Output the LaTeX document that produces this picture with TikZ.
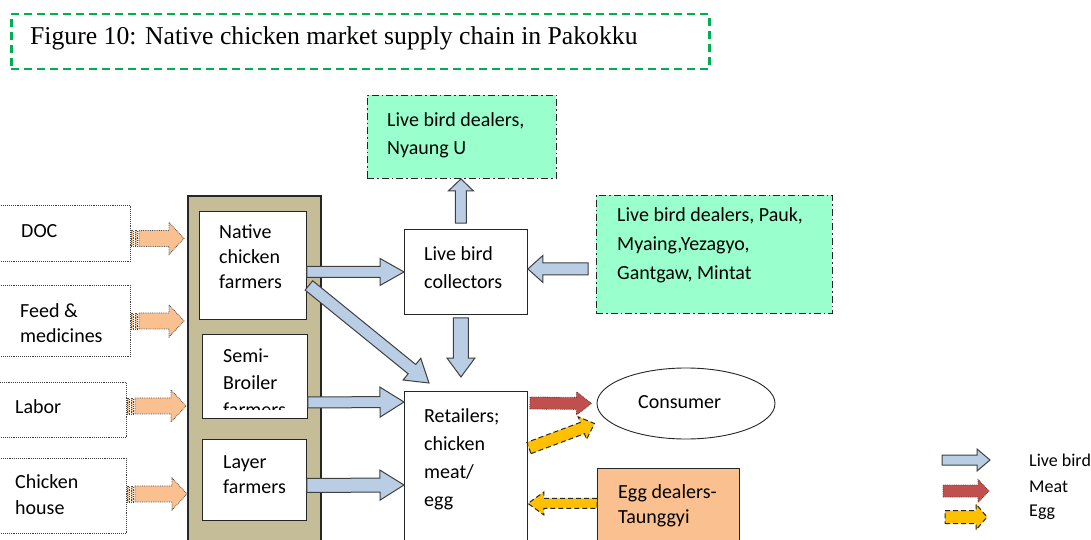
\documentclass[tikz,border=0pt]{standalone}
\usepackage{fontspec}
\setmainfont{Carlito}
\newfontfamily\titlefont{Liberation Serif}
\usetikzlibrary{calc,shapes.geometric}

\definecolor{tanbg}{HTML}{C4BD97}
\definecolor{mint}{HTML}{99FFCC}
\definecolor{peach}{HTML}{FAC090}
\definecolor{lblue}{HTML}{B9CDE5}
\definecolor{meatred}{HTML}{C0504D}
\definecolor{eggyel}{HTML}{FFC000}
\definecolor{tgreen}{HTML}{00B050}

% block arrow: [style]{from}{to}{shaft half width}{head half width}{head length}
\newcommand\blockarrow[6][]{%
  \path (#2); \pgfgetlastxy{\baSx}{\baSy}%
  \path (#3); \pgfgetlastxy{\baEx}{\baEy}%
  \pgfmathsetmacro\baAng{atan2(\baEy-\baSy,\baEx-\baSx)}%
  \pgfmathsetmacro\baLen{veclen(\baEx-\baSx,\baEy-\baSy)}%
  \pgfmathsetmacro\baNeck{\baLen-#6}%
  \draw[#1,shift={(\baSx,\baSy)},rotate=\baAng]
    (0pt,-#4pt) -- (\baNeck pt,-#4pt) -- (\baNeck pt,-#5pt) -- (\baLen pt,0pt)
    -- (\baNeck pt,#5pt) -- (\baNeck pt,#4pt) -- (0pt,#4pt) -- cycle;
}
% striped input arrow (horizontal)
\newcommand\stripedarrow[2]{%
  \blockarrow[inarrow]{$(#1)+(8,0)$}{#2}{8}{16}{15}%
  \draw[inarrow] ($(#1)+(0,-8)$) rectangle ($(#1)+(2,8)$);
  \draw[inarrow] ($(#1)+(4,-8)$) rectangle ($(#1)+(6,8)$);
}

\begin{document}
\begin{tikzpicture}[x=1pt,y=-1pt,
  box/.style={draw=black!85, line width=0.9pt, rectangle, inner sep=0pt, anchor=north west, fill=white},
  inbox/.style={draw=black!75, densely dotted, line width=0.9pt, rectangle, inner sep=0pt, anchor=north west, fill=white},
  dealerbox/.style={box, fill=mint, dash pattern=on 7pt off 3pt on 1.5pt off 3pt},
  % text nodes are placed by the baseline of their last line
  txt/.style={anchor=base west, inner sep=0pt, align=left, font=\fontsize{20}{25}\selectfont},
  wide/.style={font=\fontsize{20}{28}\selectfont},
  legtxt/.style={anchor=base west, inner sep=0pt, font=\fontsize{18}{20}\selectfont},
  inarrow/.style={fill=peach, draw=black!70, densely dotted, line width=0.8pt},
  livearrow/.style={fill=lblue, draw=black!75, line width=1pt},
  meatarrow/.style={fill=meatred, draw=meatred!60!black, densely dotted, line width=0.8pt},
  eggarrow/.style={fill=eggyel, draw=black!85, dash pattern=on 5pt off 3pt, line width=1pt}
]
\useasboundingbox (0,0) rectangle (1091,540);
\clip (0,0) rectangle (1091,540);
\fill[white] (0,0) rectangle (1091,540);

% title
\node[draw=tgreen, line width=2.5pt, dash pattern=on 8pt off 5pt, minimum width=698pt, minimum height=55pt, anchor=north west, inner sep=0pt] (titlebox) at (10,13) {};
\node[anchor=base west, inner sep=0pt, font=\titlefont\fontsize{25.7}{28}\selectfont] (title) at (30,45) {Figure 10: Native chicken market supply chain in Pakokku};

% inputs
\node[inbox, minimum width=135pt, minimum height=56pt] (doc) at (-5,205) {};
\node[inbox, minimum width=135pt, minimum height=71pt] (feed) at (-5,285) {};
\node[inbox, minimum width=131pt, minimum height=55pt] (labor) at (-5,382) {};
\node[inbox, minimum width=131pt, minimum height=75pt] (house) at (-5,458) {};
\node[txt] (doc-t) at (21,237) {DOC};
\node[txt] (feed-t) at (20,342) {Feed \&\\medicines};
\node[txt] (labor-t) at (15,413) {Labor};
\node[txt, font=\fontsize{20}{26}\selectfont] (house-t) at (15,514) {Chicken\\house};

% farmers
\node[box, fill=tanbg, line width=1.5pt, minimum width=133pt, minimum height=370pt] (tan) at (187,195) {};
\node[box, minimum width=107pt, minimum height=108pt] (ncf) at (199,211) {};
\node[box, minimum width=105pt, minimum height=84pt] (semi) at (202,334) {};
\node[box, minimum width=104pt, minimum height=81pt] (layer) at (202,439) {};
\node[txt] (ncf-t) at (219,288) {Native\\chicken\\farmers};
\begin{scope}
  \clip (semi.north west) rectangle ($(semi.south east)+(0,-9)$);
  \node[txt, font=\fontsize{20}{27}\selectfont] (semi-t) at (223,416) {Semi-\\Broiler\\farmers};
\end{scope}
\node[txt] (layer-t) at (223,493) {Layer\\farmers};

% traders
\node[dealerbox, minimum width=189pt, minimum height=83pt] (nyu) at (367,95) {};
\node[txt, wide] (nyu-t) at (387,155) {Live bird dealers,\\Nyaung U};
\node[box, minimum width=123pt, minimum height=85pt] (colls) at (404,229) {};
\node[txt, wide] (colls-t) at (424,288) {Live bird\\collectors};
\node[dealerbox, minimum width=236pt, minimum height=118pt] (pauk) at (596,195) {};
\node[txt, font=\fontsize{20}{29}\selectfont] (pauk-t) at (617,279) {Live bird dealers, Pauk,\\Myaing,Yezagyo,\\Gantgaw, Mintat};
\node[box, minimum width=123pt, minimum height=170pt] (retail) at (404,391) {};
\node[txt, wide] (retail-t) at (424,506) {Retailers;\\chicken\\meat/\\egg};
\node[draw=black!85, line width=0.9pt, ellipse, minimum width=178pt, minimum height=71pt, inner sep=0pt] (consumer) at (686,403.5) {};
\node[txt] (consumer-t) at (638,408) {Consumer};
\node[box, fill=peach, minimum width=142pt, minimum height=90pt] (eggd) at (597,468) {};
\node[txt] (eggd-t) at (618,523) {Egg dealers-\\Taunggyi};

% inputs into farms
\stripedarrow{$(doc.east)+(0,5)$}{$(tan.west|-doc.east)+(-3,5)$}
\stripedarrow{feed.east}{$(tan.west|-feed.east)+(-3,0)$}
\stripedarrow{$(labor.east)+(0,-4)$}{$(tan.west|-labor.east)+(-1,-4)$}
\stripedarrow{$(house.east)+(0,-2)$}{$(tan.west|-house.east)+(0,-2)$}

% live bird flows
\blockarrow[livearrow]{ncf.east|-colls.west}{colls.west}{5.5}{13.5}{24}
\blockarrow[livearrow]{$(nyu.south|-colls.north)+(-1,-6)$}{$(nyu.south)+(-1,0)$}{5.5}{12.5}{12}
\blockarrow[livearrow]{$(pauk.west|-colls.east)+(-8,-3)$}{$(colls.east)+(0,-3)$}{6}{13.5}{15}
\blockarrow[livearrow]{$(colls.south)+(-5,3)$}{$(retail.north)+(-5,-14)$}{7.5}{14}{19}
\blockarrow[livearrow]{$(ncf.east)+(2,20)$}{$(retail.north west)+(25,-8)$}{6}{14}{22}
\blockarrow[livearrow]{$(semi.east)+(0,26)$}{$(retail.north west)+(0,11)$}{5.5}{15}{24}
\blockarrow[livearrow]{$(layer.east)+(0,5.5)$}{$(retail.north west)+(0,94)$}{7}{15}{24}

% meat and egg flows
\blockarrow[meatarrow]{$(retail.north east)+(2,12)$}{$(consumer.west)+(-5,0)$}{6}{11.5}{15}
\blockarrow[eggarrow]{$(retail.north east)+(1,57)$}{$(consumer.west)+(-2,20)$}{6}{12}{13}
\blockarrow[eggarrow]{$(eggd.west)+(0,-10)$}{$(retail.east|-eggd.west)+(0,-10)$}{5}{11.5}{16}

% legend
\coordinate (lg-live-a) at (942,460);
\coordinate (lg-live-b) at (990,460);
\coordinate (lg-meat-a) at (943,491);
\coordinate (lg-meat-b) at (989,491);
\coordinate (lg-egg-a) at (945,517);
\coordinate (lg-egg-b) at (987,517);
\blockarrow[livearrow]{lg-live-a}{lg-live-b}{5}{11}{13}
\blockarrow[meatarrow]{lg-meat-a}{lg-meat-b}{6}{11.5}{11}
\blockarrow[eggarrow]{lg-egg-a}{lg-egg-b}{6.5}{13}{11}
\node[legtxt] (lg-live) at (1029,466) {Live bird};
\node[legtxt] (lg-meat) at (1029,492) {Meat};
\node[legtxt] (lg-egg) at (1029,516) {Egg};
\end{tikzpicture}
\end{document}
